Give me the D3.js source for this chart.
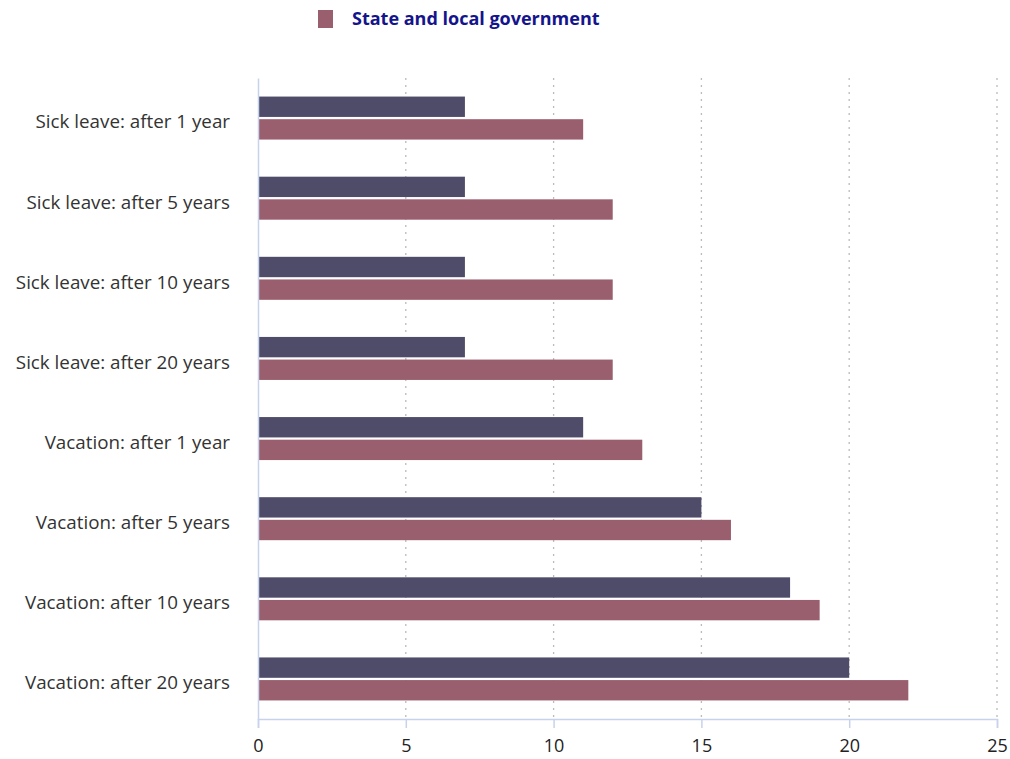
<!DOCTYPE html>
<html>
<head>
<meta charset="utf-8">
<script src="https://cdn.jsdelivr.net/npm/d3@7"></script>
<style>
  body { margin: 0; background: #fff; }
  text { font-family: "Open Sans", "Noto Sans", sans-serif; }
</style>
</head>
<body>
<div id="chart"></div>
<script>
// categories, top to bottom
var categories = [
    'Sick leave: after 1 year',
    'Sick leave: after 5 years',
    'Sick leave: after 10 years',
    'Sick leave: after 20 years',
    'Vacation: after 1 year',
    'Vacation: after 5 years',
    'Vacation: after 10 years',
    'Vacation: after 20 years'
];
var seriesNames = ['Private industry', 'State and local government'];
var privateDays = [7, 7, 7, 7, 11, 15, 18, 20];
var stateDays = [11, 12, 12, 12, 13, 16, 19, 22];
var xTicks = [0, 5, 10, 15, 20, 25];
var colors = ['#4f4c6a', '#9a5f6e'];

var width = 1010, height = 759;
var margin = { top: 78, right: 13, bottom: 40, left: 258 };
var innerW = width - margin.left - margin.right;
var innerH = height - margin.top - margin.bottom;

var svg = d3.select('#chart').append('svg')
    .attr('width', width)
    .attr('height', height);

var g = svg.append('g').attr('transform', 'translate(' + margin.left + ',' + margin.top + ')');

var x = d3.scaleLinear().domain([0, 25]).range([0, innerW]);
var y = d3.scaleBand().domain(categories).range([0, innerH]);
var sub = d3.scaleBand().domain([0, 1]).range([y.bandwidth() / 2 - 21.5, y.bandwidth() / 2 + 21.5]).paddingInner(0.1);

// dotted grid lines
g.selectAll('.grid')
    .data(xTicks.slice(1))
    .enter().append('line')
    .attr('x1', d => x(d)).attr('x2', d => x(d))
    .attr('y1', 0).attr('y2', innerH)
    .attr('stroke', '#bbbbbb')
    .attr('stroke-width', 1.3)
    .attr('stroke-dasharray', '2,5');

// bars
var rows = categories.map((c, i) => ({ cat: c, vals: [privateDays[i], stateDays[i]] }));
var rowG = g.selectAll('.row')
    .data(rows)
    .enter().append('g')
    .attr('transform', d => 'translate(0,' + y(d.cat) + ')');

rowG.selectAll('rect')
    .data(d => d.vals.map((v, k) => ({ v: v, k: k })))
    .enter().append('rect')
    .attr('x', x(0))
    .attr('y', d => sub(d.k))
    .attr('width', d => x(d.v) - x(0))
    .attr('height', sub.bandwidth())
    .attr('fill', d => colors[d.k]);

// axes
var xAxis = g.append('g')
    .attr('transform', 'translate(0,' + innerH + ')')
    .call(d3.axisBottom(x).tickValues(xTicks).tickSize(9).tickPadding(11));
xAxis.select('.domain').attr('stroke', '#c8d2ea').attr('stroke-width', 1.5);
xAxis.selectAll('.tick line').attr('stroke', '#c8d2ea').attr('stroke-width', 1.5);
xAxis.selectAll('.tick text')
    .attr('font-size', '18px')
    .attr('fill', '#222')
    .style('font-family', '"Open Sans", sans-serif');

var yAxis = g.append('g')
    .call(d3.axisLeft(y).tickSize(0).tickPadding(28));
yAxis.select('.domain').attr('stroke', '#c8d2ea').attr('stroke-width', 1.5);
yAxis.selectAll('.tick text')
    .attr('font-size', '18.8px')
    .attr('dy', '0.55em')
    .attr('fill', '#333')
    .style('font-family', '"Open Sans", sans-serif');

// legend (only second series visible)
var legend = svg.append('g').attr('transform', 'translate(318,10)');
legend.append('rect')
    .attr('width', 15).attr('height', 18)
    .attr('fill', colors[1]);
legend.append('text')
    .attr('x', 34).attr('y', 15)
    .attr('font-size', '18px')
    .attr('font-weight', 'bold')
    .attr('fill', '#14148c')
    .text(seriesNames[1]);
</script>
</body>
</html>
